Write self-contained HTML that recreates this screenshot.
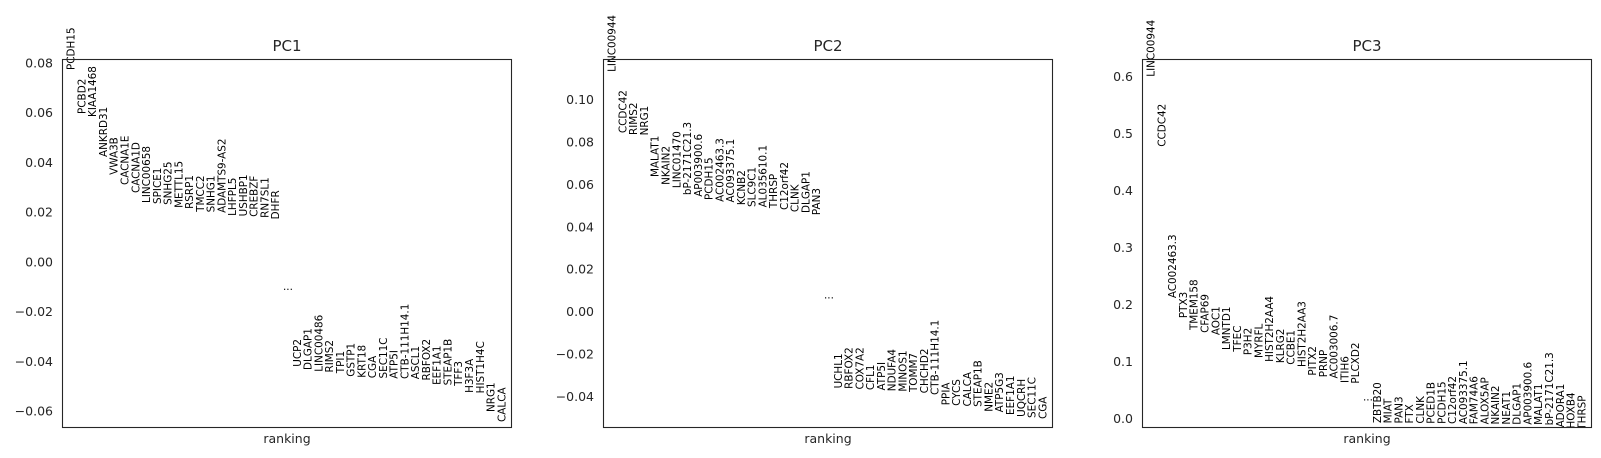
<!DOCTYPE html>
<html><head><meta charset="utf-8">
<style>
html,body{margin:0;padding:0;background:#fff;}
svg{display:block;font-family:"DejaVu Sans","Liberation Sans",sans-serif;}
</style></head>
<body>
<svg id="chart" width="1601" height="458" viewBox="0 0 1601 458" xmlns="http://www.w3.org/2000/svg"></svg>
<script>
const pc1TopGenes = ["PCDH15","PCBD2","KIAA1468","ANKRD31","VWA3B","CACNA1E","CACNA1D","LINC00658","SPICE1","SNHG25","METTL15","RSRP1","TMCC2","SNHG1","ADAMTS9-AS2","LHFPL5","USHBP1","CREBZF","RN7SL1","DHFR"];
const pc1TopScores = [0.0772,0.0595,0.0583,0.0422,0.0350,0.0309,0.0277,0.0237,0.0233,0.0229,0.0217,0.0213,0.0201,0.0199,0.0197,0.0185,0.0183,0.0181,0.0177,0.0171];
const pc1BottomGenes = ["UCP2","DLGAP1","LINC00486","RIMS2","TPI1","GSTP1","KRT18","CGA","SEC11C","ATP5I","CTB-111H14.1","ASCL1","RBFOX2","EEF1A1","STEAP1B","TFF3","H3F3A","HIST1H4C","NRG1","CALCA"];
const pc1BottomScores = [-0.0422,-0.0435,-0.0442,-0.0445,-0.0448,-0.0462,-0.0466,-0.0468,-0.0469,-0.0470,-0.0471,-0.0472,-0.0477,-0.0495,-0.0497,-0.0499,-0.0527,-0.0529,-0.0604,-0.0644];
const pc1Ticks = [0.08,0.06,0.04,0.02,0.00,-0.02,-0.04,-0.06];
const pc1TickLabels = ["0.08","0.06","0.04","0.02","0.00","\u22120.02","\u22120.04","\u22120.06"];

const pc2TopGenes = ["LINC00944","CCDC42","RIMS2","NRG1","MALAT1","NKAIN2","LINC01470","bP-2171C21.3","AP003900.6","PCDH15","AC002463.3","AC093375.1","KCNB2","SLC9C1","AL035610.1","THRSP","C12orf42","CLNK","DLGAP1","PAN3"];
const pc2TopScores = [0.1129,0.0841,0.0832,0.0830,0.0634,0.0597,0.0582,0.0549,0.0541,0.0526,0.0517,0.0514,0.0502,0.0493,0.0491,0.0488,0.0479,0.0469,0.0465,0.0455];
const pc2BottomGenes = ["UCHL1","RBFOX2","COX7A2","CFL1","ATP5I","NDUFA4","MINOS1","TOMM7","CHCHD2","CTB-111H14.1","PPIA","CYCS","CALCA","STEAP1B","NME2","ATP5G3","EEF1A1","UQCRH","SEC11C","CGA"];
const pc2BottomScores = [-0.0361,-0.0363,-0.0366,-0.0369,-0.0371,-0.0374,-0.0376,-0.0378,-0.0384,-0.0392,-0.0440,-0.0443,-0.0446,-0.0448,-0.0471,-0.0474,-0.0486,-0.0495,-0.0500,-0.0505];
const pc2Ticks = [0.10,0.08,0.06,0.04,0.02,0.00,-0.02,-0.04];
const pc2TickLabels = ["0.10","0.08","0.06","0.04","0.02","0.00","\u22120.02","\u22120.04"];

const pc3TopGenes = ["LINC00944","CCDC42","AC002463.3","PTX3","TMEM158","CFAP69","AOC1","LMNTD1","TFEC","P3H2","MYRFL","HIST2H2AA4","KLRG2","CCBE1","HIST2H2AA3","PITX2","PRNP","AC003006.7","ITIH6","PLCXD2"];
const pc3TopScores = [0.600,0.477,0.211,0.176,0.155,0.150,0.146,0.120,0.117,0.111,0.106,0.099,0.097,0.094,0.090,0.075,0.072,0.070,0.062,0.061];
const pc3BottomGenes = ["ZBTB20","MIAT","PAN3","FTX","CLNK","PCED1B","PCDH15","C12orf42","AC093375.1","FAM74A6","ALOX5AP","NKAIN2","NEAT1","DLGAP1","AP003900.6","MALAT1","bP-2171C21.3","ADORA1","HOXB4","THRSP"];
const pc3BottomScores = [-0.0085,-0.0088,-0.0090,-0.0092,-0.0094,-0.0096,-0.0098,-0.0100,-0.0102,-0.0104,-0.0106,-0.0108,-0.0110,-0.0112,-0.0114,-0.0116,-0.0125,-0.0160,-0.0180,-0.0200];
const pc3Ticks = [0.6,0.5,0.4,0.3,0.2,0.1,0.0];
const pc3TickLabels = ["0.6","0.5","0.4","0.3","0.2","0.1","0.0"];

const NS = "http://www.w3.org/2000/svg";
const svg = document.getElementById("chart");
function mk(tag, attrs, parent){
  const e = document.createElementNS(NS, tag);
  for (const k in attrs) e.setAttribute(k, attrs[k]);
  (parent||svg).appendChild(e);
  return e;
}

const panels = [
  {name:"pc1", title:"PC1", left:62, tickA:[0.08,63], tickB:[-0.06,411], top:pc1TopGenes, topS:pc1TopScores, bot:pc1BottomGenes, botS:pc1BottomScores, ticks:pc1Ticks, tl:pc1TickLabels},
  {name:"pc2", title:"PC2", left:603, tickA:[0.10,99.3], tickB:[-0.04,396.7], top:pc2TopGenes, topS:pc2TopScores, bot:pc2BottomGenes, botS:pc2BottomScores, ticks:pc2Ticks, tl:pc2TickLabels},
  {name:"pc3", title:"PC3", left:1142, tickA:[0.6,76.7], tickB:[0.0,418.3], top:pc3TopGenes, topS:pc3TopScores, bot:pc3BottomGenes, botS:pc3BottomScores, ticks:pc3Ticks, tl:pc3TickLabels}
];
const W = 450, TOP = 59, BOT = 428;

panels.forEach((p, pi) => {
  const g = mk("g", {});
  
  
  const n = p.top.length;
  const xmin = -0.9, xmax = 2*n + 1 - 0.1;
  const xs = i => p.left + (i - xmin) / (xmax - xmin) * W;
  const ys = v => p.tickA[1] + (p.tickA[0] - v) / (p.tickA[0] - p.tickB[0]) * (p.tickB[1] - p.tickA[1]);

  const cid = "clip" + pi;
  const defs = mk("defs", {}, g);
  const cp = mk("clipPath", {id: cid}, defs);
  mk("rect", {x: p.left, y: 0, width: W, height: BOT}, cp);

  p.ticks.forEach((t, i) => {
    const tx = mk("text", {x: p.left - 9, y: ys(t), "text-anchor":"end", "dominant-baseline":"central", "font-size":"12.5", fill:"#262626"}, g);
    
    
    tx.textContent = p.tl[i];
  });

  const lab = mk("g", {"clip-path": "url(#" + cid + ")"}, g);
  
  
  function gene(name, idx, score){
    const x = xs(idx), y = ys(score);
    const t = mk("text", {x: x, y: y, transform: "rotate(-90 " + x + " " + y + ")", "font-size":"10.4", fill:"#000", "dominant-baseline":"central"}, lab);
    
    
    t.textContent = name;
  }
  p.top.forEach((gn, i) => gene(gn, i, p.topS[i]));
  p.bot.forEach((gn, i) => gene(gn, n + 1 + i, p.botS[i]));
  const mid = (p.topS[n-1] + p.botS[0]) / 2;
  const dots = mk("text", {x: xs(n) - 4, y: ys(mid) - 3, "font-size":"10.4", fill:"#000"}, g);
  
  
  dots.textContent = "...";

  const frame = mk("rect", {x: p.left + 0.5, y: TOP + 0.5, width: W - 1, height: BOT - TOP - 1, fill: "none", stroke: "#262626", "stroke-width": "1.1"}, g);
  
  

  const title = mk("text", {x: p.left + W/2, y: 51, "text-anchor":"middle", "font-size":"15", fill:"#262626"}, g);
  
  
  title.textContent = p.title;

  const xl = mk("text", {x: p.left + W/2, y: 443, "text-anchor":"middle", "font-size":"12.5", fill:"#262626"}, g);
  
  
  xl.textContent = "ranking";
});
</script>
</body></html>
